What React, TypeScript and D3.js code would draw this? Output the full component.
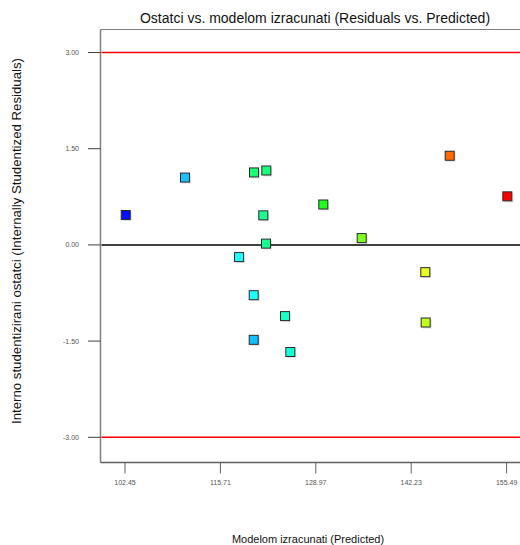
import React from "react";
import * as d3 from "d3";

const predicted = [102.55, 110.79, 120.38, 122.09, 121.67, 122.05, 118.3, 120.34, 124.69, 120.34, 125.43, 147.58, 155.59, 130.01, 135.35, 144.19, 144.24];
const residuals = [0.466, 1.05, 1.13, 1.16, 0.461, 0.02, -0.19, -0.784, -1.11, -1.48, -1.67, 1.39, 0.757, 0.63, 0.106, -0.425, -1.21];
const pointColors = ["#0010ff", "#18c0ff", "#18ff78", "#18ff78", "#18ff90", "#18ff90", "#20ffff", "#20ffff", "#18ffc8", "#10c0ff", "#18ffd8", "#ff6a00", "#ff0000", "#20ff20", "#80ff20", "#e8ff20", "#c0ff20"];
const xTicks = [102.45, 115.71, 128.97, 142.23, 155.49];
const yTicks = [3.0, 1.5, 0.0, -1.5, -3.0];
const limits = [3, -3];

export default function App() {
  const W = 520, H = 545;
  const left = 100.5, right = 540, top = 29.5, bottom = 462.5;
  const x = d3.scaleLinear().domain([102.45, 155.49]).range([125, 506.6]);
  const y = d3.scaleLinear().domain([-3, 3]).range([437.3, 52.5]);
  const font = "'Liberation Sans', Arial, sans-serif";
  const sq = 9;
  return (
    <svg width={W} height={H} style={{ position: "absolute", left: 0, top: 0, background: "#fff" }}>
      <text x={315} y={23} textAnchor="middle" fontFamily={font} fontSize={14} fill="#111">
        Ostatci vs. modelom izracunati (Residuals vs. Predicted)
      </text>
      {/* plot box */}
      <line x1={left} x2={right} y1={top} y2={top} stroke="#808080" strokeWidth={1} />
      <line x1={left} x2={left} y1={top} y2={bottom} stroke="#808080" strokeWidth={1.5} />
      <line x1={left} x2={right} y1={bottom} y2={bottom} stroke="#606060" strokeWidth={1.5} />
      {/* y ticks */}
      {yTicks.map((t) => (
        <g key={"y" + t}>
          <line x1={88} x2={left} y1={y(t)} y2={y(t)} stroke="#404040" strokeWidth={1} />
          <text x={79} y={y(t) + 2.5} textAnchor="end" fontFamily={font} fontSize={7} fill="#555">
            {t.toFixed(2)}
          </text>
        </g>
      ))}
      {/* x ticks */}
      {xTicks.map((t) => (
        <g key={"x" + t}>
          <line x1={x(t)} x2={x(t)} y1={bottom} y2={bottom + 11} stroke="#606060" strokeWidth={1} />
          <text x={x(t)} y={485} textAnchor="middle" fontFamily={font} fontSize={7} fill="#555">
            {t.toFixed(2)}
          </text>
        </g>
      ))}
      {/* limit lines */}
      {limits.map((l) => (
        <line key={"l" + l} x1={left + 1} x2={right} y1={y(l)} y2={y(l)} stroke="#ff0000" strokeWidth={1.5} />
      ))}
      <line x1={left + 1} x2={right} y1={y(0)} y2={y(0)} stroke="#000" strokeWidth={1.5} />
      {/* points */}
      {predicted.map((p, i) => (
        <g key={"p" + i}>
          <rect x={x(p) - sq / 2 + 1.5} y={y(residuals[i]) - sq / 2 + 1.5} width={sq} height={sq} fill="#000" opacity={0.12} />
          <rect x={x(p) - sq / 2} y={y(residuals[i]) - sq / 2} width={sq} height={sq} fill={pointColors[i]} stroke="#2a2a2a" strokeWidth={1} />
        </g>
      ))}
      <text transform={`translate(21,${241}) rotate(-90)`} textAnchor="middle" fontFamily={font} fontSize={12} textLength={366} lengthAdjust="spacingAndGlyphs" fill="#111">
        Interno studentizirani ostatci (Internally Studentized Residuals)
      </text>
      <text x={308} y={543} textAnchor="middle" fontFamily={font} fontSize={11} fill="#111">
        Modelom izracunati (Predicted)
      </text>
    </svg>
  );
}
